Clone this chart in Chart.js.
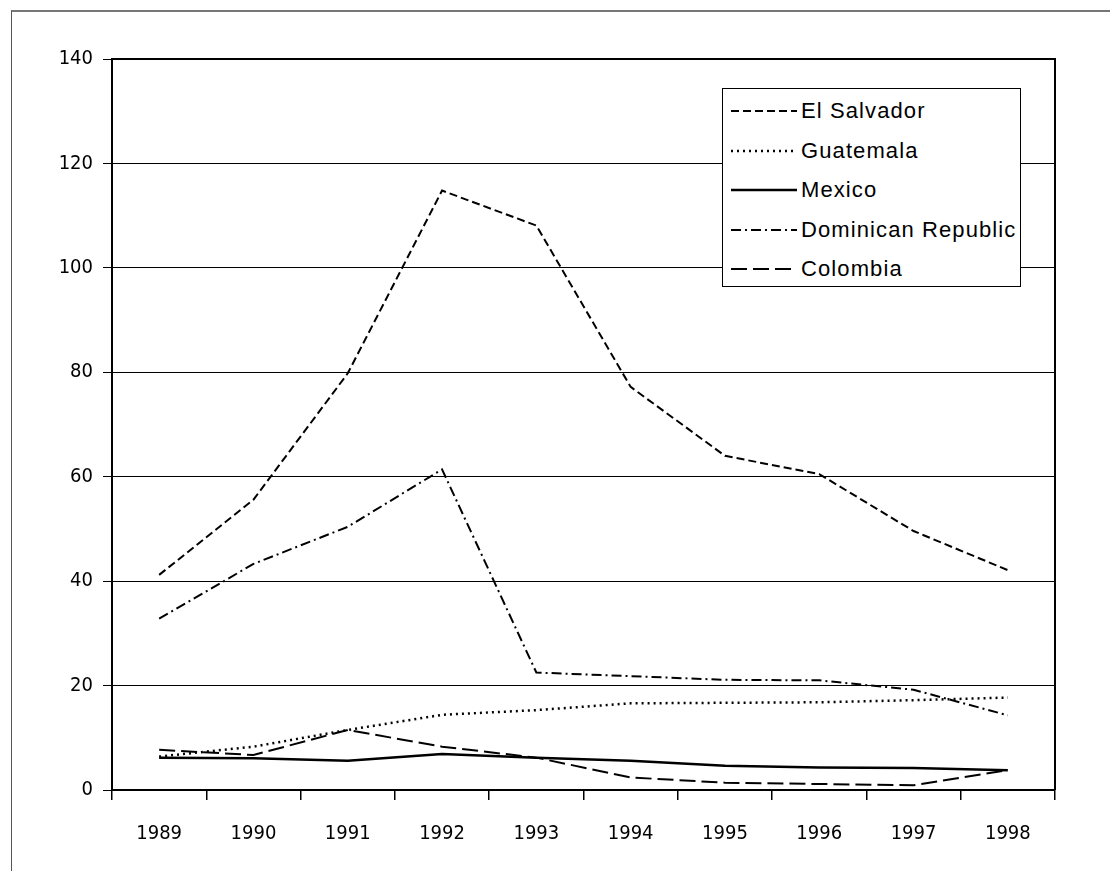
<!DOCTYPE html>
<html>
<head>
<meta charset="utf-8">
<script src="https://cdn.jsdelivr.net/npm/chart.js@4.4.0/dist/chart.umd.min.js"></script>
<style>
  body { margin: 0; background: #fff; }
  #wrap { position: relative; width: 1110px; height: 871px; overflow: hidden; }
  #frame { position: absolute; left: 11px; top: 10px; width: 1200px; height: 1000px;
           border-left: 1px solid #555; border-top: 2px solid #777; }
  #legend { position: absolute; left: 722px; top: 88px; width: 297px; height: 197px;
            border: 1.5px solid #000; background: #fff;
            font-family: "Liberation Sans", Arial, sans-serif; font-size: 22px; letter-spacing: 1.1px; }
  .row { position: absolute; left: 8px; height: 30px; display: flex; align-items: center; }
  .row svg { width: 66px; height: 10px; margin-right: 4px; }
  canvas { position: absolute; left: 0; top: 0; }
</style>
</head>
<body>
<div id="wrap">
  <div id="frame"></div>
  <canvas id="grafico" width="1110" height="871"></canvas>
  <div id="legend"></div>
</div>
<script>
// Datos
var anios = ['1989', '1990', '1991', '1992', '1993', '1994', '1995', '1996', '1997', '1998'];
var elSalvador = [41.2, 55.6, 79.8, 114.8, 108.1, 77.2, 64, 60.5, 49.6, 42.1];
var guatemala = [6.4, 8.3, 11.5, 14.4, 15.3, 16.6, 16.7, 16.8, 17.2, 17.7];
var mexico = [6.2, 6.1, 5.6, 6.9, 6.2, 5.6, 4.65, 4.3, 4.2, 3.8];
var dominicana = [32.8, 43.3, 50.4, 61.4, 22.5, 21.8, 21.1, 21.0, 19.2, 14.3];
var colombia = [7.7, 6.7, 11.5, 8.3, 6.2, 2.4, 1.4, 1.15, 0.9, 3.8];
var yTicks = [0, 20, 40, 60, 80, 100, 120, 140];

var fuenteEjes = { family: '"DejaVu Sans Condensed", "Liberation Sans Narrow", sans-serif', size: 20 };

var series = [
    { label: 'El Salvador', data: elSalvador, dash: [8, 4], width: 2 },
    { label: 'Guatemala', data: guatemala, dash: [2, 4], width: 2.5 },
    { label: 'Mexico', data: mexico, dash: [], width: 2.5 },
    { label: 'Dominican Republic', data: dominicana, dash: [10, 4, 2, 4], width: 2 },
    { label: 'Colombia', data: colombia, dash: [16, 6], width: 2 }
];

// borde superior y derecho del area del grafico
var bordePlot = {
    id: 'bordePlot',
    afterDatasetsDraw: function(chart) {
        var a = chart.chartArea, c = chart.ctx;
        c.save();
        c.strokeStyle = '#000';
        c.lineWidth = 2;
        c.beginPath();
        c.moveTo(a.left, a.top);
        c.lineTo(a.right, a.top);
        c.lineTo(a.right, a.bottom);
        c.stroke();
        c.restore();
    }
};

var ctx = document.getElementById('grafico').getContext('2d');
var myChart = new Chart(ctx, {
    type: 'line',
    data: {
        labels: anios,
        datasets: series.map(function(s) {
            return {
                label: s.label,
                data: s.data,
                borderColor: '#000',
                borderWidth: s.width,
                borderDash: s.dash,
                pointRadius: 0,
                tension: 0,
                fill: false
            };
        })
    },
    options: {
        responsive: false,
        animation: false,
        layout: { padding: { left: 0, right: 55, top: 59, bottom: 0 } },
        plugins: { legend: { display: false }, tooltip: { enabled: false } },
        scales: {
            x: {
                offset: true,
                grid: { offset: true, drawOnChartArea: false, tickLength: 10, color: '#000', lineWidth: 1.5 },
                border: { color: '#000', width: 2 },
                ticks: { color: '#000', font: fuenteEjes, padding: 22, maxRotation: 0 },
                afterFit: function(s) { s.height = 81; }
            },
            y: {
                min: 0,
                max: 140,
                afterBuildTicks: function(s) { s.ticks = yTicks.map(function(v) { return { value: v }; }); },
                grid: { color: '#000', lineWidth: 1, tickLength: 9 },
                border: { color: '#000', width: 2 },
                ticks: { color: '#000', font: fuenteEjes, padding: 10 },
                afterFit: function(s) { s.width = 112; }
            }
        }
    },
    plugins: [bordePlot]
});

// Leyenda en HTML
var leyenda = document.getElementById('legend');
series.forEach(function(s, i) {
    var fila = document.createElement('div');
    fila.className = 'row';
    fila.style.top = (7 + i * 39.6) + 'px';
    var dash = s.dash.length ? s.dash.join(' ') : 'none';
    fila.innerHTML = '<svg viewBox="0 0 66 10"><line x1="0" y1="5" x2="66" y2="5" stroke="#000" stroke-width="' +
        s.width + '" stroke-dasharray="' + dash + '"/></svg><span>' + s.label + '</span>';
    leyenda.appendChild(fila);
});
</script>
</body>
</html>
